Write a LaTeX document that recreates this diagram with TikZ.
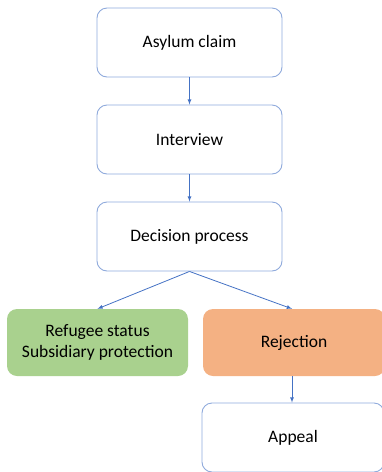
\documentclass[tikz,border=0pt]{standalone}
\usepackage{fontspec}
\setmainfont{Carlito}
\usepackage{xcolor}
\usetikzlibrary{arrows,positioning,shapes}
\definecolor{boxline}{HTML}{8FAADC}
\definecolor{arrowblue}{HTML}{4472C4}
\definecolor{granted}{HTML}{A9D18E}
\definecolor{rejected}{HTML}{F4B183}
\tikzset{%
	process/.style  = {draw=boxline, line width=0.9pt, rectangle, rounded corners=10pt, minimum width=185pt, minimum height=69pt, text centered, font=\fontsize{17.5}{20.5}\selectfont},
	outcome/.style  = {rectangle, rounded corners=10pt, minimum width=181pt, minimum height=67pt, align=center, font=\fontsize{17.5}{20.5}\selectfont},
	arrow/.style    = {line width=0.8pt, draw=arrowblue, -latex},
}
\begin{document}
\begin{tikzpicture}[x=1pt,y=-1pt]
	\useasboundingbox (0,0) rectangle (382,472);
	\clip (0,0) rectangle (382,472);
	
	\node[process] (claim) at (189.5,42.5) {Asylum claim};
	\node[process] (interview) at (189.5,139.5) {Interview};
	\node[process] (decision) at (189.5,236.5) {Decision process};
	
	\node[outcome, fill=granted] (refugee) at (97.5,342.5) {Refugee status\\Subsidiary protection};
	\node[outcome, fill=rejected, minimum width=182pt] (rejection) at (294,342.5) {Rejection};
	\node[process, minimum width=182pt] (appeal) at (293,437.5) {Appeal};
	
	\draw[arrow] (claim) -- (interview);
	\draw[arrow] (interview) -- (decision);
	\draw[arrow] (decision.south) -- (refugee.north);
	\draw[arrow] (decision.south) -- ([xshift=-2pt]rejection.north);
	\draw[arrow] ([xshift=-2pt]rejection.south) -- ([xshift=-1pt]appeal.north);
\end{tikzpicture}
\end{document}
